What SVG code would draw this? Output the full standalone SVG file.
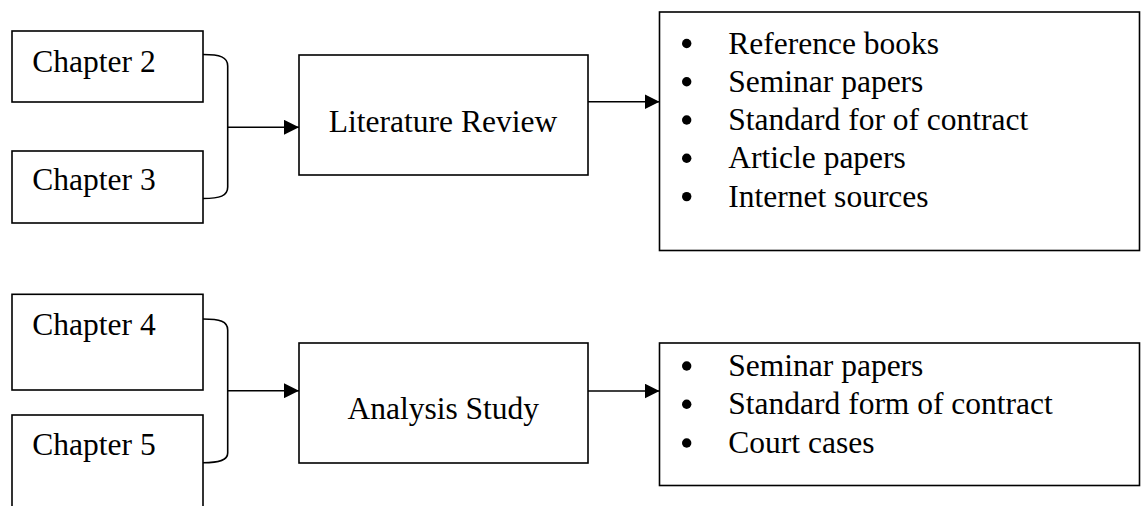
<svg xmlns="http://www.w3.org/2000/svg" width="1146" height="506" viewBox="0 0 1146 506">
<style>
  .box { fill: #ffffff; stroke: #000000; stroke-width: 1.6; }
  .lbl { font-family: "Liberation Serif", "Times New Roman", serif; font-size: 31.5px; fill: #000000; }
  .mid { text-anchor: middle; }
  .conn { fill: none; stroke: #000000; stroke-width: 1.6; }
  .bul { fill: #000000; }
</style>
<defs>
  <marker id="arr" markerUnits="userSpaceOnUse" markerWidth="15" markerHeight="15" refX="15" refY="7.5" orient="auto">
    <path d="M0,0 L15,7.5 L0,15 Z" fill="#000000"/>
  </marker>
</defs>
<rect width="1146" height="506" fill="#ffffff"/>

<g id="ch2">
  <rect class="box" x="12" y="31" width="191" height="71"/>
  <text class="lbl" x="32.3" y="71.7">Chapter 2</text>
</g>
<g id="ch3">
  <rect class="box" x="12" y="151" width="191" height="72"/>
  <text class="lbl" x="32.3" y="190">Chapter 3</text>
</g>
<g id="lit">
  <rect class="box" x="299" y="55" width="289" height="120"/>
  <text class="lbl mid" x="443" y="131.7">Literature Review</text>
</g>
<g id="list1">
  <rect class="box" x="659.5" y="12" width="480" height="238.5"/>
  <circle class="bul" cx="686.7" cy="43.5" r="4.7"/>
  <text class="lbl" x="728.3" y="53.5">Reference books</text>
  <circle class="bul" cx="686.7" cy="81.8" r="4.7"/>
  <text class="lbl" x="728.3" y="91.8">Seminar papers</text>
  <circle class="bul" cx="686.7" cy="120" r="4.7"/>
  <text class="lbl" x="728.3" y="130">Standard for of contract</text>
  <circle class="bul" cx="686.7" cy="158.3" r="4.7"/>
  <text class="lbl" x="728.3" y="168.3">Article papers</text>
  <circle class="bul" cx="686.7" cy="196.6" r="4.7"/>
  <text class="lbl" x="728.3" y="206.6">Internet sources</text>
</g>

<g id="ch4">
  <rect class="box" x="12" y="294.3" width="191" height="95.7"/>
  <text class="lbl" x="32.3" y="335">Chapter 4</text>
</g>
<g id="ch5">
  <rect class="box" x="12" y="415" width="191" height="120"/>
  <text class="lbl" x="32.3" y="455">Chapter 5</text>
</g>
<g id="ana">
  <rect class="box" x="299" y="343" width="289" height="120"/>
  <text class="lbl mid" x="443.3" y="419.3">Analysis Study</text>
</g>
<g id="list2">
  <rect class="box" x="659.5" y="343" width="480" height="142.5"/>
  <circle class="bul" cx="686.7" cy="366" r="4.7"/>
  <text class="lbl" x="728.3" y="376">Seminar papers</text>
  <circle class="bul" cx="686.7" cy="404.2" r="4.7"/>
  <text class="lbl" x="728.3" y="414.2">Standard form of contract</text>
  <circle class="bul" cx="686.7" cy="443" r="4.7"/>
  <text class="lbl" x="728.3" y="453">Court cases</text>
</g>

<g id="connectors">
  <path class="conn" d="M203,54.5 C220,54.5 227.7,57 227.7,66 L227.7,187 C227.7,196 220,198.5 203,198.5"/>
  <path class="conn" d="M227.7,127.3 L299,127.3" marker-end="url(#arr)"/>
  <path class="conn" d="M588,101.7 L659.5,101.7" marker-end="url(#arr)"/>
  <path class="conn" d="M203,319 C220,319 227.7,321.5 227.7,330 L227.7,453 C227.7,460 220,462.7 203,462.7"/>
  <path class="conn" d="M227.7,390.7 L299,390.7" marker-end="url(#arr)"/>
  <path class="conn" d="M588,391 L659.5,391" marker-end="url(#arr)"/>
</g>
</svg>
